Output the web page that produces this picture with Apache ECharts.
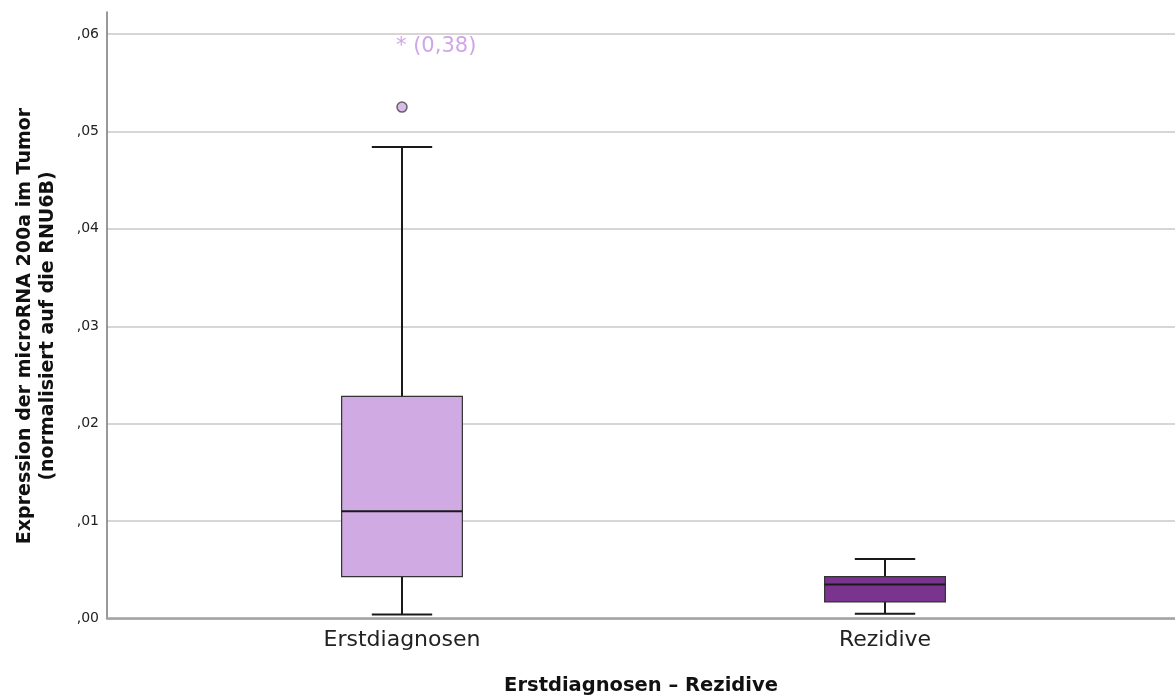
<!DOCTYPE html>
<html><head><meta charset="utf-8">
<script src="https://cdn.jsdelivr.net/npm/echarts@6/dist/echarts.min.js"></script>
<style>html,body{margin:0;padding:0;background:#fff}#c{width:1175px;height:698px}</style>
</head><body><div id="c"></div>
<script>
// ---- data ----
const categories = ['Erstdiagnosen', 'Rezidive'];
// [low whisker, Q1, median, Q3, high whisker]
const boxStats = [
  [0.0004, 0.0043, 0.0110, 0.0228, 0.0484],
  [0.0005, 0.0017, 0.0035, 0.0043, 0.0061]
];
const boxColors = ['#d0aae3', '#7a348f'];
const outliers = [[0, 0.0525]];
const extremes = [[0, 0.38]];
const extremeLabels = ['* (0,38)'];
const yTicks = [0, 0.01, 0.02, 0.03, 0.04, 0.05, 0.06];
const yTitle = 'Expression der microRNA 200a im Tumor\n(normalisiert auf die RNU6B)';
const xTitle = 'Erstdiagnosen \u2013 Rezidive';

const FONT = 'DejaVu Sans';
const yMax = 0.06226;
const chart = echarts.init(document.getElementById('c'));
const boxData = boxStats.map((s, i) => [i].concat(s));

chart.setOption({
  animation: false,
  grid: [
    {left: 107, right: 0, top: 12, bottom: 79.5, outerBoundsMode: 'none', containLabel: false},
    {left: 160.5, right: 48.5, top: 12, bottom: 79.5, outerBoundsMode: 'none', containLabel: false}
  ],
  graphic: [{
    type: 'text', x: 37, y: 326, rotation: Math.PI / 2,
    style: {text: yTitle, fontFamily: FONT, fontSize: 19, fontWeight: 'bold', fill: '#111',
      lineHeight: 23, textAlign: 'center', textVerticalAlign: 'middle'}
  }],
  xAxis: [
    {gridIndex: 0, type: 'value', min: 0, max: 1,
     axisLine: {show: true, onZero: false, lineStyle: {color: '#a3a3a3', width: 2.5}},
     axisTick: {show: false}, axisLabel: {show: false}, splitLine: {show: false},
     name: xTitle, nameLocation: 'middle', nameGap: 57,
     nameTextStyle: {fontFamily: FONT, fontSize: 19.5, fontWeight: 'bold', color: '#111'}},
    {gridIndex: 1, type: 'category', data: categories,
     axisLine: {show: false}, axisTick: {show: false},
     axisLabel: {fontFamily: FONT, fontSize: 22, color: '#222', margin: 11}}
  ],
  yAxis: [
    {gridIndex: 0, type: 'value', min: 0, max: yMax, interval: 0.01,
     axisLine: {show: true, lineStyle: {color: '#777', width: 1.5}},
     axisTick: {show: false},
     axisLabel: {fontFamily: FONT, fontSize: 14, color: '#222', margin: 8,
       showMaxLabel: false,
       formatter: v => v.toFixed(2).replace('0.', ',')},
     splitLine: {show: true, showMaxLine: false, lineStyle: {color: '#d6d6d6', width: 2}}},
    {gridIndex: 1, type: 'value', min: 0, max: yMax, show: false}
  ],
  series: [
    {type: 'custom', xAxisIndex: 1, yAxisIndex: 1, data: boxData,
     encode: {x: 0, y: [1, 2, 3, 4, 5]},
     renderItem: function (params, api) {
       const i = api.value(0);
       const band = api.size([1, 0])[0];
       const bw = band * 0.25, cw = bw / 2;
       const p = k => api.coord([i, api.value(k)]);
       const lo = p(1), q1 = p(2), md = p(3), q3 = p(4), hi = p(5);
       const x = lo[0];
       const ls = {stroke: '#1a1a1a', lineWidth: 2};
       return {type: 'group', children: [
         {type: 'line', shape: {x1: x, y1: lo[1], x2: x, y2: q1[1]}, style: ls},
         {type: 'line', shape: {x1: x, y1: q3[1], x2: x, y2: hi[1]}, style: ls},
         {type: 'line', shape: {x1: x - cw / 2, y1: lo[1], x2: x + cw / 2, y2: lo[1]}, style: ls},
         {type: 'line', shape: {x1: x - cw / 2, y1: hi[1], x2: x + cw / 2, y2: hi[1]}, style: ls},
         {type: 'rect', shape: {x: x - bw / 2, y: q3[1], width: bw, height: q1[1] - q3[1]},
          style: {fill: boxColors[i], stroke: '#333', lineWidth: 1.2}},
         {type: 'line', shape: {x1: x - bw / 2, y1: md[1], x2: x + bw / 2, y2: md[1]}, style: ls}
       ]};
     }},
    {type: 'scatter', xAxisIndex: 1, yAxisIndex: 1, data: outliers, symbolSize: 10,
     itemStyle: {color: boxColors[0], borderColor: '#444', borderWidth: 1.5}},
    {type: 'custom', xAxisIndex: 1, yAxisIndex: 1, data: extremes,
     renderItem: function (params, api) {
       const i = api.value(0);
       const pt = api.coord([i, 0]);
       return {type: 'text', x: pt[0] - 6, y: params.coordSys.y + 35,
         style: {text: extremeLabels[params.dataIndex], fill: '#cfa6e6', fontFamily: FONT,
           fontSize: 21, textAlign: 'left', textVerticalAlign: 'middle'}};
     }}
  ]
});
</script>
</body></html>
